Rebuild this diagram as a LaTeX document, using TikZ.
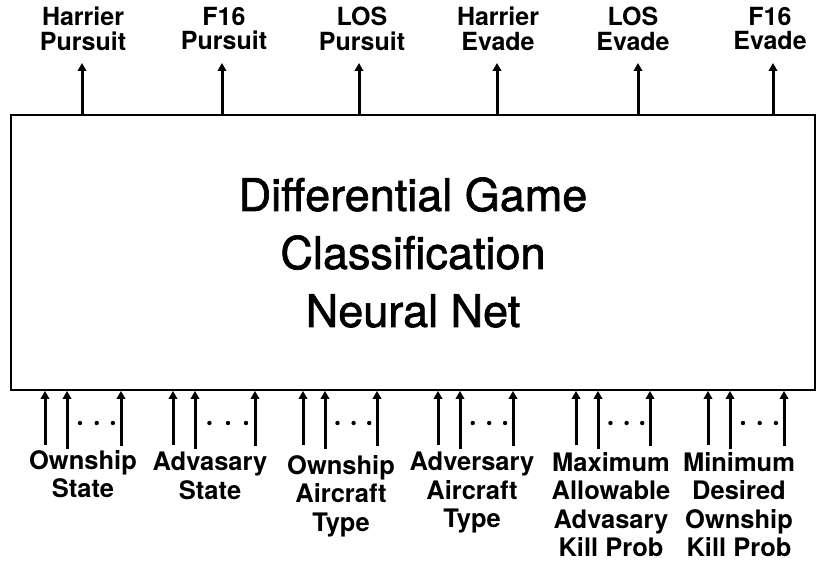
\documentclass[tikz,border=0pt]{standalone}
\usepackage{fontspec}
\setmainfont{TeX Gyre Heros}
\newfontfamily\titlefont[FakeBold=1.5]{TeX Gyre Heros}
\usetikzlibrary{arrows.meta}
\begin{document}
\begin{tikzpicture}[x=1pt,y=-1pt,
        arr/.style={line width=3pt,-{Triangle[width=8.5pt,length=8pt]}},
        outlbl/.style={font=\bfseries\fontsize{25}{24.5}\selectfont,align=center,inner sep=0pt,anchor=north},
        inlbl/.style={font=\bfseries\fontsize{25.5}{28.5}\selectfont,align=center,inner sep=0pt,anchor=north}]
        \useasboundingbox (0,0) rectangle (816,561);
        \node[draw,line width=1.8pt,minimum width=804pt,minimum height=275pt,inner sep=0pt,
            font=\titlefont\fontsize{45}{58}\selectfont,align=center] at (413,252.5) (net)
            {Differential Game\\Classification\\Neural Net};

        % outputs
        \node[outlbl] at (83,7)  (hp) {Harrier\\Pursuit};
        \node[outlbl] at (224,7) (fp) {F16\\Pursuit};
        \node[outlbl] at (362,7) (lp) {LOS\\Pursuit};
        \node[outlbl] at (498,7) (he) {Harrier\\Evade};
        \node[outlbl] at (633,7) (le) {LOS\\Evade};
        \node[outlbl] at (770,7) (fe) {F16\\Evade};
        \foreach \n/\x in {hp/82, fp/222, lp/359, he/497, le/638, fe/773} {
            \coordinate (\n tip) at (\x,63);
            \draw[arr] (net.north -| \n tip) -- (\n tip);
        }

        % inputs
        \foreach \g/\x/\w in {os/45/76, as/173/82, oa/303/74, aa/438/75, mx/576/74, mn/708/76} {
            \coordinate (\g1) at (\x,445);
            \coordinate (\g2) at (\x+22,449);
            \coordinate (\g3) at (\x+\w,446);
            \foreach \k in {1,2,3}
                \draw[arr] (\g\k) -- (\g\k |- net.south);
            \foreach \d in {0.24,0.55,0.85}
                \fill (\x+22+\w*\d-22*\d,423) circle (2.2pt);
        }
        \node[inlbl] at (83,450)  (osl) {Ownship\\State};
        \node[inlbl] at (210,452) (asl) {Advasary\\State};
        \node[inlbl] at (341,455) (oal) {Ownship\\Aircraft\\Type};
        \node[inlbl] at (472,452) (aal) {Adversary\\Aircraft\\Type};
        \node[inlbl] at (611,452) (mxl) {Maximum\\Allowable\\Advasary\\Kill Prob};
        \node[inlbl] at (739,452) (mnl) {Minimum\\Desired\\Ownship\\Kill Prob};
    \end{tikzpicture}
\end{document}
